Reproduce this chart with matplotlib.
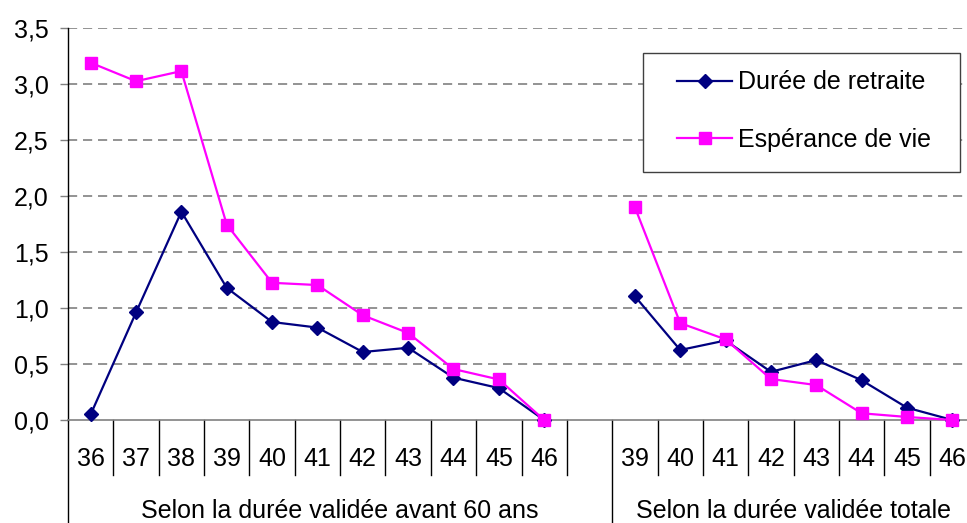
import numpy as np
import matplotlib
matplotlib.use("Agg")
import matplotlib.pyplot as plt
from matplotlib.ticker import FixedLocator, FixedFormatter
from matplotlib.patches import Rectangle

plt.rcParams['font.family'] = ['Liberation Sans', 'DejaVu Sans']

# ---- data ----
group1_labels = ["36", "37", "38", "39", "40", "41", "42", "43", "44", "45", "46"]
group2_labels = ["39", "40", "41", "42", "43", "44", "45", "46"]
group_titles = ["Selon la durée validée avant 60 ans", "Selon la durée validée totale"]

retraite_g1 = [0.05, 0.96, 1.86, 1.18, 0.875, 0.825, 0.607, 0.645, 0.378, 0.285, 0.0]
retraite_g2 = [1.105, 0.625, 0.71, 0.43, 0.535, 0.355, 0.11, 0.0]
esperance_g1 = [3.19, 3.025, 3.115, 1.745, 1.225, 1.205, 0.935, 0.777, 0.455, 0.362, 0.0]
esperance_g2 = [1.9, 0.865, 0.72, 0.366, 0.312, 0.06, 0.027, 0.0]

series_names = ["Durée de retraite", "Espérance de vie"]
y_ticks = [0.0, 0.5, 1.0, 1.5, 2.0, 2.5, 3.0, 3.5]
y_tick_labels = ["0,0", "0,5", "1,0", "1,5", "2,0", "2,5", "3,0", "3,5"]

# ---- layout: categories with one blank slot between groups ----
n1 = len(group1_labels) + 1  # includes blank slot
n2 = len(group2_labels)
ntot = n1 + n2
x1 = np.arange(len(group1_labels)) + 0.5
x2 = np.arange(n2) + n1 + 0.5
x_all = np.concatenate([x1, [len(group1_labels) + 0.5], x2])
ret_all = np.array(retraite_g1 + [np.nan] + retraite_g2, dtype=float)
esp_all = np.array(esperance_g1 + [np.nan] + esperance_g2, dtype=float)

W, H = 967, 523
fig = plt.figure(figsize=(W / 100, H / 100), dpi=100)
left, right, top, bottom = 68, 975, 28, 420
ax = fig.add_axes([left / W, 1 - bottom / H, (right - left) / W, (bottom - top) / H])

grey = "#808080"
FS = 18

ax.plot(x_all, ret_all, color="#000080", lw=1.6, marker="D", ms=7.0,
        mfc="#000080", mec="#000080", label=series_names[0], zorder=3, clip_on=False)
ax.plot(x_all, esp_all, color="#FF00FF", lw=1.6, marker="s", ms=8.2,
        mfc="#FF00FF", mec="#FF00FF", label=series_names[1], zorder=4, clip_on=False)

ax.set_xlim(0, ntot)
ax.set_ylim(0, 3.5)

ax.yaxis.set_major_locator(FixedLocator(y_ticks))
ax.yaxis.set_major_formatter(FixedFormatter(y_tick_labels))
ax.tick_params(axis="y", direction="out", length=6, width=1, color=grey,
               labelsize=FS, pad=8)
ax.set_xticks([])

for yv in y_ticks[1:]:
    ax.axhline(yv, color=grey, lw=1.2, ls=(0, (5.5, 3.5)), zorder=1)

for s in ["top", "right"]:
    ax.spines[s].set_visible(False)
ax.spines["left"].set_color("black")
ax.spines["left"].set_linewidth(1)
ax.spines["bottom"].set_color(grey)
ax.spines["bottom"].set_linewidth(1.2)

trans = ax.get_xaxis_transform()
ax_h = bottom - top
short_y = -(475 - bottom) / ax_h
long_y = -(H + 5 - bottom) / ax_h

# category separators
for b in range(1, ntot):
    yl = long_y if b == n1 else short_y
    ax.plot([b, b], [0, yl], transform=trans, color="black", lw=1, clip_on=False)
ax.plot([0, 0], [0, long_y], transform=trans, color="black", lw=1, clip_on=False)

# category labels
lab_y = -(466 - bottom) / ax_h
for xv, t in zip(x1, group1_labels):
    ax.text(xv, lab_y, t, transform=trans, ha="center", va="baseline", fontsize=FS)
for xv, t in zip(x2, group2_labels):
    ax.text(xv, lab_y, t, transform=trans, ha="center", va="baseline", fontsize=FS)

grp_y = -(518 - bottom) / ax_h
ax.text(n1 / 2, grp_y, group_titles[0], transform=trans, ha="center", va="baseline", fontsize=FS)
ax.text(n1 + n2 / 2, grp_y, group_titles[1], transform=trans, ha="center", va="baseline", fontsize=FS)

# legend box + legend entries
box = Rectangle((643 / W, 1 - 172 / H), (960 - 643) / W, (172 - 53) / H,
                transform=fig.transFigure, facecolor="white", edgecolor="#404040",
                lw=1, zorder=6)
fig.add_artist(box)
leg = fig.legend(loc="center left", bbox_to_anchor=(677 / W, 1 - 111 / H),
                 bbox_transform=fig.transFigure, fontsize=FS, frameon=False,
                 handlelength=2.2, labelspacing=1.33, borderpad=0,
                 handletextpad=0.25, borderaxespad=0)
leg.set_zorder(7)

fig.savefig("out.png", dpi=100)
